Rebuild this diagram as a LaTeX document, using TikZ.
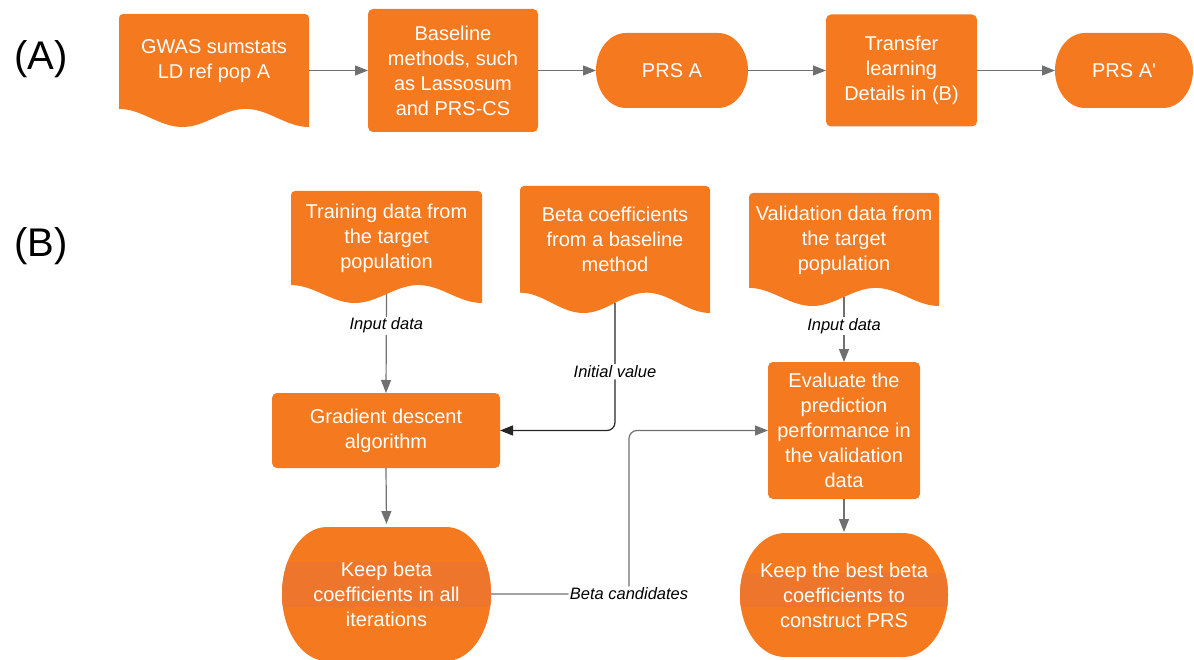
\documentclass[tikz,border=0pt]{standalone}
\usepackage{fontspec}
\setmainfont{Liberation Sans}[Ligatures=TeXOff]
\usetikzlibrary{arrows.meta,calc}
\definecolor{orng}{RGB}{245,121,31}
\definecolor{bandc}{RGB}{237,118,44}
\definecolor{lgray}{RGB}{112,112,112}
\newcommand\bfnt{\fontsize{20}{25}\selectfont}
\newcommand\lblfnt{\fontsize{16.5}{20}\selectfont\itshape}
\newcommand\tagfnt{\fontsize{40}{48}\selectfont}
% terminal shape: #1 command, cx, cy, w, h, rx
\newcommand\termshape[6]{#1 ({#2-#4/2+#6},{#3-#5/2}) -- ({#2+#4/2-#6},{#3-#5/2}) arc[start angle=90,end angle=-90,x radius={#6*1pt},y radius={#5/2*1pt}] -- ({#2-#4/2+#6},{#3+#5/2}) arc[start angle=270,end angle=90,x radius={#6*1pt},y radius={#5/2*1pt}] -- cycle;}
% document shape: name, x0, y0, w, h, text
\newcommand\docshape[6]{%
  \fill[orng] (#2,{#3+0.84*#5}) [rounded corners=4pt] -- (#2,#3) -- ({#2+#4},#3) [sharp corners] -- ({#2+#4},{#3+#5}) -- plot[domain=1:0,samples=60] ({#2+\x*#4},{#3+#5*(0.92-0.08*cos(540*\x))}) -- cycle;
  \node[box, minimum width=#4pt, minimum height=#5pt] (#1) at ({#2+#4/2},{#3+#5/2}) {};
  \node[boxtxt] (#1-t) at ({#2+#4/2},{#3+0.42*#5}) {#6};
  \coordinate (#1-b) at ({#2+#4/2},{#3+0.92*#5});
}
\tikzset{
  box/.style={inner sep=0pt, outer sep=0pt},
  boxtxt/.style={text=white, font=\bfnt, align=center, inner sep=0pt, outer sep=0pt},
  proc/.style={fill=orng, rounded corners=5pt, text=white, font=\bfnt, align=center, inner sep=0pt, outer sep=0pt},
  conn/.style={draw=lgray, line width=1.2pt, -{Triangle[length=13pt,width=10pt]}},
  lbl/.style={fill=white, font=\lblfnt, text=black, inner sep=1.5pt},
  tag/.style={font=\tagfnt, text=black, inner sep=0pt}
}
\begin{document}
\begin{tikzpicture}[x=1pt,y=-1pt]
\useasboundingbox (0,0) rectangle (1194,660);
% ---- (A) ----
\node[tag] (la) at (41,59) {(A)};
\docshape{gwas}{119}{14}{190}{113}{GWAS sumstats\\LD ref pop A}
\node[proc, minimum width=170pt, minimum height=123pt] (base) at (453,70.5) {Baseline\\methods, such\\as Lassosum\\and PRS-CS};
\termshape{\fill[orng]}{672}{70.5}{152}{75}{30}
\node[boxtxt, minimum width=152pt, minimum height=75pt] (prsa) at (672,70.5) {PRS A};
\node[proc, minimum width=151pt, minimum height=112pt] (trans) at (901.5,70.5) {Transfer\\learning\\Details in (B)};
\termshape{\fill[orng]}{1124}{70.5}{138}{75}{30}
\node[boxtxt, minimum width=138pt, minimum height=75pt] (prsb) at (1124,70.5) {PRS A'};
\draw[conn] (gwas.east) -- (base.west);
\draw[conn] (base.east) -- (prsa.west);
\draw[conn] (prsa.east) -- (trans.west);
\draw[conn] (trans.east) -- (prsb.west);
% ---- (B) ----
\node[tag] (lb) at (41,246) {(B)};
\docshape{train}{291}{191}{191}{112}{Training data from\\the target\\population}
\docshape{beta}{520}{186}{190}{127}{Beta coefficients\\from a baseline\\method}
\docshape{valid}{749}{193}{190}{113}{Validation data from\\the target\\population}
\node[proc, minimum width=228pt, minimum height=75pt] (grad) at (386,430.5) {Gradient descent\\algorithm};
\node[proc, minimum width=152pt, minimum height=137pt] (ev) at (844,430.5) {Evaluate the\\prediction\\performance in\\the validation\\data};
\termshape{\fill[orng]}{386.5}{594}{209}{134}{45}
\begin{scope}
\termshape{\clip}{386.5}{594}{209}{134}{45}
\fill[bandc] (270,562) rectangle (500,607);
\end{scope}
\node[boxtxt, minimum width=209pt, minimum height=134pt] (kb) at (386.5,594) {Keep beta\\coefficients in all\\iterations};
\termshape{\fill[orng]}{844}{595}{208}{124}{45}
\begin{scope}
\termshape{\clip}{844}{595}{208}{124}{45}
\fill[bandc] (730,573) rectangle (960,607);
\end{scope}
\node[boxtxt, minimum width=208pt, minimum height=124pt] (kbest) at (844,595) {Keep the best beta\\coefficients to\\construct PRS};
% connectors
\draw[conn] (train-b) -- node[lbl, pos=0.32] {Input data} (grad.north);
\draw[conn, draw=black!85, rounded corners=8pt] (beta-b) |- node[lbl, pos=0.27] {Initial value} (grad.east);
\draw[conn, shorten >=3pt] (grad.south) -- (kb.north);
\draw[conn, rounded corners=8pt] (kb.east) -- (629,594) node[lbl] {Beta candidates} -- (629,430.5) -- (ev.west);
\draw[conn] (valid-b) -- node[lbl, pos=0.45] {Input data} (ev.north);
\draw[conn, shorten >=1pt] (ev.south) -- (kbest.north);
\end{tikzpicture}
\end{document}
